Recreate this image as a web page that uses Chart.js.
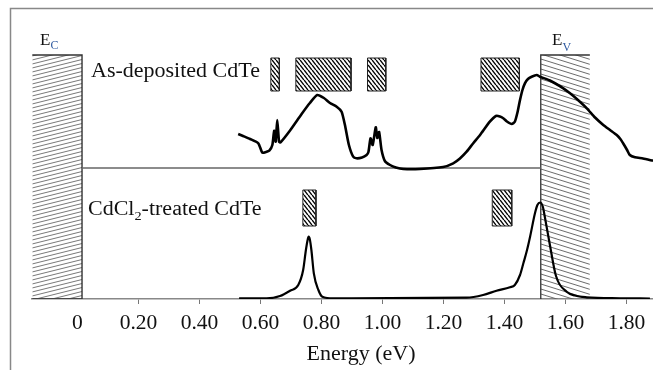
<!DOCTYPE html>
<html>
<head>
<meta charset="utf-8">
<script src="https://cdn.jsdelivr.net/npm/chart.js@4.4.0/dist/chart.umd.min.js"></script>
<style>
  html, body { margin: 0; padding: 0; background: #fff; }
  #wrap { width: 653px; height: 370px; position: relative; }
</style>
</head>
<body>
<div id="wrap"><canvas id="chart"></canvas></div>
<script>
// --------------------- DATA ---------------------
// As-deposited CdTe trace: energy (eV) and signal (a.u., above its own baseline)
const asDepEnergy = [
  0.527, 0.543, 0.566, 0.593, 0.606, 0.618, 0.629, 0.639, 0.645, 0.650,
  0.655, 0.661, 0.666, 0.697, 0.735, 0.762, 0.786, 0.808, 0.828, 0.850,
  0.866, 0.877, 0.890, 0.904, 0.915, 0.933, 0.948, 0.954, 0.961, 0.968,
  0.978, 0.983, 0.989, 0.997, 1.008, 1.025, 1.044, 1.068, 1.123, 1.199,
  1.232, 1.254, 1.276, 1.297, 1.320, 1.352, 1.372, 1.385, 1.396, 1.408,
  1.424, 1.434, 1.443, 1.451, 1.459, 1.467, 1.477, 1.489, 1.506, 1.516,
  1.549, 1.593, 1.615, 1.641, 1.670, 1.697, 1.724, 1.746, 1.768, 1.780,
  1.789, 1.802, 1.811, 1.828, 1.854, 1.887
];
const asDepSignal = [
  34, 32, 29, 24.7, 15.3, 16, 17.3, 23, 37.3, 26.3,
  48, 26.3, 25.7, 37.5, 54, 65, 73, 70, 65, 61.3,
  56.3, 43, 23, 11.3, 9.7, 10.5, 13, 16, 29.7, 23,
  40.7, 30, 36, 18, 7, 3, 0.5, -1, -1, 1,
  4.7, 9.5, 16.3, 24.5, 33, 46.3, 52, 51.5, 49.7, 46.5,
  44, 46.3, 56, 68, 78, 84.7, 89, 91.3, 93, 91.3,
  87.5, 79.7, 74.7, 68, 59.7, 50.5, 43, 38, 33, 29,
  24.7, 18, 13, 10.7, 9.5, 7.3
];

// CdCl2-treated CdTe trace
const treatedEnergy = [
  0.530, 0.620, 0.664, 0.697, 0.724, 0.740, 0.749, 0.754, 0.758, 0.762,
  0.767, 0.775, 0.790, 0.803, 0.839, 1.276, 1.330, 1.374, 1.418, 1.434,
  1.451, 1.462, 1.474, 1.484, 1.500, 1.508, 1.517, 1.526, 1.533, 1.549,
  1.569, 1.604, 1.631, 1.670, 1.779, 1.877
];
const treatedSignal = [
  0.7, 0.7, 3, 8.3, 14, 29, 49, 58, 62.3, 59.5,
  49, 25.7, 9, 2.3, 0.7, 1.3, 4, 8.3, 11.7, 14,
  24, 35.7, 49, 62.3, 85.7, 94, 96.5, 92, 81, 54,
  23, 7.3, 3.5, 1.7, 0.7, 0.5
];

// band edges and defect levels (energy ranges, eV)
const ecRange = [-0.148, 0.015];
const evRange = [1.519, 1.680];
const asDepLevels = [[0.634, 0.662], [0.716, 0.897], [0.951, 1.011], [1.323, 1.449]];
const treatedLevels = [[0.739, 0.782], [1.360, 1.424]];

const tickValues = [0, 0.2, 0.4, 0.6, 0.8, 1.0, 1.2, 1.4, 1.6, 1.8];

// --------------------- LAYOUT ---------------------
const Y_MAX = 299;          // plot height in y units
const AS_DEP_OFFSET = 131;  // upper trace baseline
const BAND_TOP = 244;
const ASDEP_LEVEL_Y = [208, 241];
const TREATED_LEVEL_Y = [73, 109];
const SERIF = "'Liberation Serif', 'Times New Roman', serif";

// --------------------- HATCH PATTERNS ---------------------
function hatch(w, h, dir, color, lw) {
  const c = document.createElement("canvas");
  c.width = w; c.height = h;
  const g = c.getContext("2d");
  g.strokeStyle = color;
  g.lineWidth = lw;
  for (const k of [-1, 0, 1]) {
    g.beginPath();
    if (dir === "\\") {
      g.moveTo(0, k * h); g.lineTo(w, h + k * h);
    } else {
      g.moveTo(0, h + k * h); g.lineTo(w, k * h);
    }
    g.stroke();
  }
  return g.createPattern(c, "repeat");
}

const ecPattern = hatch(16, 4, "/", "#6a6a6a", 0.9);
const evPattern = hatch(16, 5, "\\", "#5a5a5a", 0.9);
const levelPattern = hatch(4, 5, "\\", "#000", 1.4);

// --------------------- DATASETS ---------------------
function pts(xs, ys, off) {
  return xs.map((x, i) => ({ x: x, y: ys[i] + (off || 0) }));
}

function hatchFill(range, yr, pattern) {
  return {
    data: [{ x: range[0], y: yr[1] }, { x: range[1], y: yr[1] }],
    fill: { value: yr[0] },
    backgroundColor: pattern,
    borderWidth: 0,
    pointRadius: 0,
    tension: 0,
    order: 5
  };
}

function outline(points, color, width) {
  return {
    data: points,
    fill: false,
    borderColor: color,
    borderWidth: width,
    pointRadius: 0,
    tension: 0,
    order: 4
  };
}

const datasets = [];

// conduction band box (top, right, bottom edges)
datasets.push(hatchFill(ecRange, [0, BAND_TOP], ecPattern));
datasets.push(outline([
  { x: ecRange[0], y: BAND_TOP }, { x: ecRange[1], y: BAND_TOP },
  { x: ecRange[1], y: 0 }, { x: ecRange[0], y: 0 }
], "#333", 1.4));

// valence band box (left and top edges)
datasets.push(hatchFill(evRange, [0, BAND_TOP], evPattern));
datasets.push(outline([
  { x: evRange[0], y: 0 }, { x: evRange[0], y: BAND_TOP }, { x: evRange[1], y: BAND_TOP }
], "#333", 1.3));

// defect levels
function addLevel(range, yr) {
  datasets.push(hatchFill(range, yr, levelPattern));
  datasets.push(outline([
    { x: range[0], y: yr[0] }, { x: range[0], y: yr[1] }, { x: range[1], y: yr[1] },
    { x: range[1], y: yr[0] }, { x: range[0], y: yr[0] }
  ], "#222", 1));
}
asDepLevels.forEach(r => addLevel(r, ASDEP_LEVEL_Y));
treatedLevels.forEach(r => addLevel(r, TREATED_LEVEL_Y));

// upper baseline
datasets.push({
  data: [{ x: ecRange[1], y: AS_DEP_OFFSET }, { x: evRange[0], y: AS_DEP_OFFSET }],
  fill: false, borderColor: "#666", borderWidth: 1.5, pointRadius: 0, tension: 0, order: 3
});

// spectra
datasets.push({
  label: "As-deposited CdTe",
  data: pts(asDepEnergy, asDepSignal, AS_DEP_OFFSET),
  fill: false, borderColor: "#000", borderWidth: 2.6, pointRadius: 0,
  tension: 0.2, order: 0
});
datasets.push({
  label: "CdCl2-treated CdTe",
  data: pts(treatedEnergy, treatedSignal),
  fill: false, borderColor: "#000", borderWidth: 2.2, pointRadius: 0,
  cubicInterpolationMode: "monotone", order: 0
});

// --------------------- TEXT + FRAME ---------------------
function subText(ctx, x, y, main, sub, size, subSize, subDy, subColor) {
  ctx.font = size + "px " + SERIF;
  ctx.fillStyle = "#111";
  ctx.fillText(main, x, y);
  const w = ctx.measureText(main).width;
  ctx.font = subSize + "px " + SERIF;
  ctx.fillStyle = subColor;
  ctx.fillText(sub, x + w, y + subDy);
}

function stretched(ctx, text, x, y, sx) {
  ctx.save();
  ctx.translate(x, y);
  ctx.scale(sx, 1);
  ctx.fillText(text, 0, 0);
  ctx.restore();
}

const annotate = {
  id: "annotate",
  beforeDraw(chart) {
    const ctx = chart.ctx;
    ctx.save();
    ctx.strokeStyle = "#888";
    ctx.lineWidth = 1.5;
    ctx.beginPath();
    ctx.moveTo(10.5, 370);
    ctx.lineTo(10.5, 8.5);
    ctx.lineTo(653, 8.5);
    ctx.stroke();
    ctx.restore();
  },
  afterDraw(chart) {
    const ctx = chart.ctx;
    ctx.save();
    ctx.textBaseline = "alphabetic";
    ctx.textAlign = "left";

    subText(ctx, 40, 44.5, "E", "C", 17, 12, 4.5, "#2f5aa0");
    subText(ctx, 552, 45, "E", "V", 17, 12, 5.5, "#2f5aa0");

    const sx = 1.1;
    ctx.font = "20px " + SERIF;
    ctx.fillStyle = "#111";
    stretched(ctx, "As-deposited CdTe", 91, 77, sx);

    // CdCl2-treated CdTe with subscript 2
    let x = 88;
    ctx.font = "20px " + SERIF;
    stretched(ctx, "CdCl", x, 215, sx);
    x += ctx.measureText("CdCl").width * sx;
    ctx.font = "13px " + SERIF;
    stretched(ctx, "2", x, 220, sx);
    x += ctx.measureText("2").width * sx;
    ctx.font = "20px " + SERIF;
    stretched(ctx, "-treated CdTe", x, 215, sx);

    ctx.font = "22px " + SERIF;
    ctx.textAlign = "center";
    ctx.textBaseline = "middle";
    ctx.fillText("Energy (eV)", 361, 354);
    ctx.restore();
  }
};

// --------------------- CHART ---------------------
new Chart(document.getElementById("chart"), {
  type: "line",
  data: { datasets },
  plugins: [annotate],
  options: {
    responsive: true,
    maintainAspectRatio: false,
    animation: false,
    events: [],
    layout: { padding: { left: 32, right: 0, top: 0, bottom: 0 } },
    plugins: {
      legend: { display: false },
      tooltip: { enabled: false }
    },
    scales: {
      x: {
        type: "linear",
        min: -0.149,
        max: 1.887,
        afterBuildTicks: (scale) => {
          scale.ticks = tickValues.map(v => ({ value: v }));
        },
        afterFit: (scale) => { scale.height = 370 - Y_MAX; },
        ticks: {
          autoSkip: false,
          maxRotation: 0,
          padding: 6,
          color: "#111",
          font: { family: SERIF, size: 21.5 },
          callback: (v) => (v === 0 ? "0" : v.toFixed(2))
        },
        grid: {
          drawOnChartArea: false,
          drawTicks: true,
          tickLength: 5,
          color: (c) => (c.tick && c.tick.value === 0 ? "rgba(0,0,0,0)" : "#777")
        },
        border: { display: true, color: "#888", width: 1.5 }
      },
      y: {
        display: false,
        min: 0,
        max: Y_MAX
      }
    }
  }
});
</script>
</body>
</html>
